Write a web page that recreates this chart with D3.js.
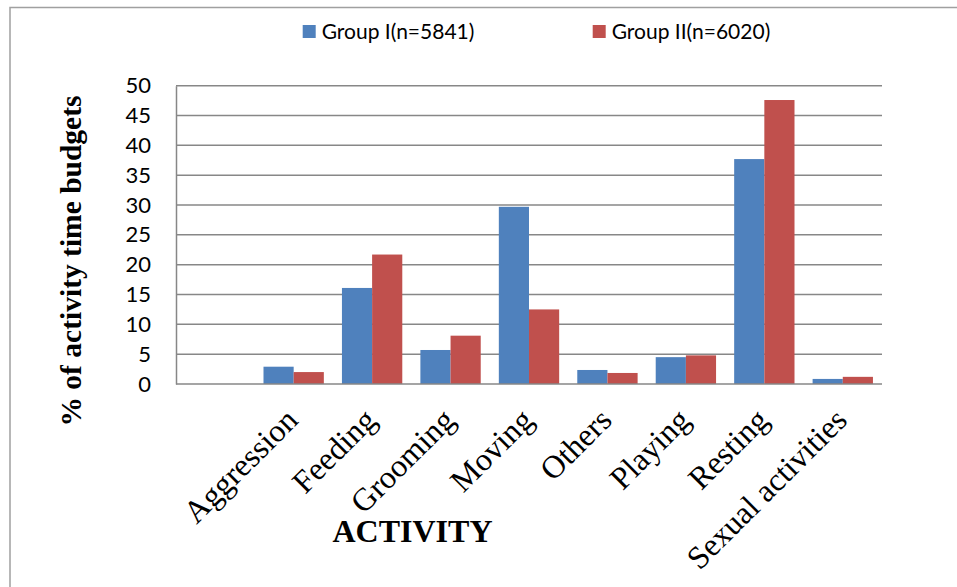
<!DOCTYPE html>
<html>
<head>
<meta charset="utf-8">
<script src="https://cdn.jsdelivr.net/npm/d3@7"></script>
<style>
  html, body { margin: 0; padding: 0; background: #fff; }
  svg { display: block; }
</style>
</head>
<body>
<svg id="chart" width="957" height="587"></svg>
<script>
// Activity categories (a blank slot precedes them on the category axis)
const categories = ["Aggression", "Feeding", "Grooming", "Moving", "Others", "Playing", "Resting", "Sexual activities"];
const seriesNames = ["Group I(n=5841)", "Group II(n=6020)"];
const group1 = [2.9, 16.1, 5.7, 29.7, 2.35, 4.5, 37.7, 0.85];
const group2 = [2.0, 21.7, 8.1, 12.5, 1.85, 4.8, 47.6, 1.2];
const yTicks = [0, 5, 10, 15, 20, 25, 30, 35, 40, 45, 50];
const colors = ["#4f81bd", "#c0504d"];

const svg = d3.select("#chart");
const W = 957, H = 587;
const plot = { left: 176, right: 882, top: 85.7, bottom: 384 };

// Outer frame (top and left edges)
svg.append("path")
  .attr("d", `M10,${H} L10,7.5 L${W},7.5`)
  .attr("fill", "none").attr("stroke", "#a0a0a0").attr("stroke-width", 1.5);

const x = d3.scaleBand()
  .domain([""].concat(categories))
  .range([plot.left, plot.right])
  .paddingInner(0).paddingOuter(0);

const inner = d3.scaleBand()
  .domain(seriesNames)
  .range([0, x.bandwidth()])
  .paddingInner(0)
  .paddingOuter(0.3);

const y = d3.scaleLinear().domain([0, 50]).range([plot.bottom, plot.top]);

// Gridlines
svg.append("g")
  .selectAll("line")
  .data(yTicks.filter(d => d > 0))
  .join("line")
  .attr("x1", plot.left).attr("x2", plot.right)
  .attr("y1", d => y(d)).attr("y2", d => y(d))
  .attr("stroke", "#878787").attr("stroke-width", 1.5);

// Bars
const rows = categories.map((c, i) => ({ cat: c, vals: [group1[i], group2[i]] }));
const g = svg.append("g");
rows.forEach(r => {
  r.vals.forEach((v, s) => {
    g.append("rect")
      .attr("x", x(r.cat) + inner(seriesNames[s]))
      .attr("y", y(v))
      .attr("width", inner.bandwidth())
      .attr("height", y(0) - y(v))
      .attr("fill", colors[s]);
  });
});

// Y axis
const yAxis = d3.axisLeft(y).tickValues(yTicks).tickSize(0).tickPadding(25);
const ya = svg.append("g").attr("transform", `translate(${plot.left},0)`).call(yAxis);
ya.select(".domain").attr("stroke", "#878787").attr("stroke-width", 1.5);
ya.selectAll("text")
  .attr("font-family", "Lato, 'Open Sans', sans-serif")
  .attr("font-size", 22).attr("fill", "#000");

// X axis line
svg.append("line")
  .attr("x1", plot.left).attr("x2", plot.right)
  .attr("y1", plot.bottom).attr("y2", plot.bottom)
  .attr("stroke", "#878787").attr("stroke-width", 1.5);

// Category labels, rotated
svg.append("g")
  .selectAll("text")
  .data(categories)
  .join("text")
  .attr("transform", d => `translate(${x(d) + x.bandwidth() / 2 + 6},422) rotate(-45)`)
  .attr("text-anchor", "end")
  .attr("font-family", "'Liberation Serif', 'Times New Roman', serif")
  .attr("font-size", 32)
  .attr("fill", "#000")
  .text(d => d);

// Axis titles
svg.append("text")
  .attr("x", 412.5).attr("y", 542)
  .attr("text-anchor", "middle")
  .attr("font-family", "'Liberation Serif', 'Times New Roman', serif")
  .attr("font-weight", "bold").attr("font-size", 32)
  .text("ACTIVITY");

svg.append("text")
  .attr("transform", "translate(81,261) rotate(-90)")
  .attr("text-anchor", "middle")
  .attr("font-family", "'Liberation Serif', 'Times New Roman', serif")
  .attr("font-weight", "bold").attr("font-size", 29.5)
  .text("% of activity time budgets");

// Legend
const legendX = [302.7, 592.7];
const legend = svg.append("g");
seriesNames.forEach((name, i) => {
  legend.append("rect")
    .attr("x", legendX[i]).attr("y", 25)
    .attr("width", 13).attr("height", 13)
    .attr("fill", colors[i]);
  legend.append("text")
    .attr("x", legendX[i] + 19).attr("y", 39)
    .attr("font-family", "Lato, 'Open Sans', sans-serif")
    .attr("font-size", 21)
    .text(name);
});
</script>
</body>
</html>
